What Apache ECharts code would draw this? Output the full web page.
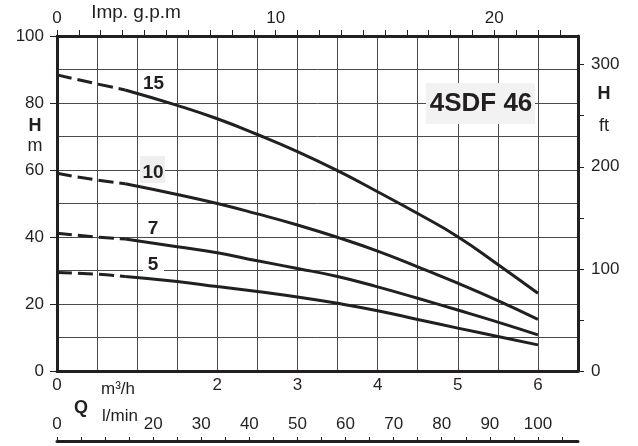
<!DOCTYPE html>
<html><head><meta charset="utf-8">
<script src="https://cdn.jsdelivr.net/npm/echarts@6/dist/echarts.min.js"></script>
<style>html,body{margin:0;padding:0;background:#fff}#c{width:638px;height:446px}</style>
</head><body><div id="c"></div>
<script>
// Flow rate (m3/h) sample points, shared by all curves
const flow = [0, 0.5, 0.85, 1.5, 2, 2.5, 3, 3.5, 4, 4.5, 5, 5.5, 6];
// Head (m) for each stage count
const head15 = [88.4, 85.7, 83.9, 79.3, 75.3, 70.6, 65.5, 59.8, 53.5, 47.0, 40.1, 31.8, 23.2];
const head10 = [59.0, 57.0, 55.9, 52.7, 50.0, 46.9, 43.6, 39.9, 35.8, 31.1, 26.2, 21.0, 15.4];
const head7  = [41.1, 40.0, 39.4, 37.1, 35.3, 32.9, 30.6, 28.2, 25.1, 21.7, 18.2, 14.6, 10.8];
const head5  = [29.4, 28.9, 28.2, 26.7, 25.2, 23.7, 22.1, 20.2, 18.0, 15.4, 12.8, 10.3, 7.8];
const curveLabels = ['15', '10', '7', '5'];
const dashEndIndex = 2; // dashed part runs from flow[0] to flow[2]

// Axis ranges and unit conversions
const flowMax = 6.5;          // m3/h
const headMax = 100;          // m
const gpmPerM3h = 1000 / 60 / 4.54609;
const lminPerM3h = 1000 / 60;
const ftPerM = 1 / 0.3048;

const font = "'Liberation Sans', Arial, Helvetica, sans-serif";
const ink = '#231f20';
const gridColor = '#4a4a4a';

const heads = [head15, head10, head7, head5];
const series = [];
heads.forEach((h, k) => {
  const pts = flow.map((q, i) => [q, h[i]]);
  series.push({
    type: 'line', name: curveLabels[k] + ' dashed', xAxisIndex: 0, yAxisIndex: 0,
    data: pts.slice(0, dashEndIndex + 1), smooth: 0.5, symbol: 'none', silent: true,
    lineStyle: { color: ink, width: 3, type: [15, 6] }, z: 5
  });
  series.push({
    type: 'line', name: curveLabels[k], xAxisIndex: 0, yAxisIndex: 0,
    data: pts.slice(dashEndIndex), smooth: 0.5, symbol: 'none', silent: true,
    lineStyle: { color: ink, width: 3 }, z: 5
  });
});

function txt(text, x, y, size, bold, extra) {
  return Object.assign({
    type: 'text', z: 200, silent: true,
    style: { text: text, x: x, y: y, fill: ink, fontSize: size, fontFamily: font,
      fontWeight: bold ? 'bold' : 'normal', align: 'center', verticalAlign: 'middle',
      textAlign: 'center', textVerticalAlign: 'middle' }
  }, extra || {});
}
function box(x, y, w, h, fill) {
  return { type: 'rect', z: 150, silent: true, shape: { x: x, y: y, width: w, height: h }, style: { fill: fill } };
}

const labelStyle = { color: ink, fontSize: 17, fontFamily: font };

const option = {
  animation: false,
  backgroundColor: '#ffffff',
  grid: { left: 57, right: 60, top: 36, bottom: 75, containLabel: false },
  xAxis: [
    { type: 'value', position: 'bottom', min: 0, max: flowMax, interval: 0.5,
      axisLine: { show: true, onZero: false, lineStyle: { color: ink, width: 3 } },
      axisTick: { show: false },
      splitLine: { show: true, lineStyle: { color: gridColor, width: 1 } },
      axisLabel: Object.assign({ margin: 6, showMaxLabel: true,
        formatter: v => (Number.isInteger(v) && v !== 1) ? String(v) : '' }, labelStyle) },
    { type: 'value', position: 'top', min: 0, max: flowMax * gpmPerM3h, interval: 1,
      axisLine: { show: true, onZero: false, lineStyle: { color: ink, width: 3 } },
      axisTick: { show: true, length: 6, lineStyle: { color: ink, width: 1 } },
      splitLine: { show: false },
      axisLabel: Object.assign({ margin: 9, showMaxLabel: false,
        formatter: v => (v % 10 === 0) ? String(v) : '' }, labelStyle) },
    { type: 'value', position: 'bottom', offset: 70, min: 0, max: flowMax * lminPerM3h, interval: 5,
      axisLine: { show: true, onZero: false, lineStyle: { color: ink, width: 3 } },
      axisTick: { show: true, inside: true, length: 4, lineStyle: { color: ink, width: 1 } },
      splitLine: { show: false },
      axisLabel: Object.assign({ inside: true, margin: 8, showMaxLabel: false,
        formatter: v => (v === 0 || (v % 10 === 0 && v >= 20 && v <= 100)) ? String(v) : '' }, labelStyle) }
  ],
  yAxis: [
    { type: 'value', position: 'left', min: 0, max: headMax, interval: 20,
      axisLine: { show: true, onZero: false, lineStyle: { color: ink, width: 3 } },
      axisTick: { show: true, length: 7, lineStyle: { color: ink, width: 1 } },
      minorTick: { show: true, splitNumber: 2, length: 0, lineStyle: { width: 0 } },
      splitLine: { show: true, lineStyle: { color: gridColor, width: 1 } },
      minorSplitLine: { show: true, lineStyle: { color: gridColor, width: 1 } },
      axisLabel: Object.assign({ margin: 13 }, labelStyle) },
    { type: 'value', position: 'right', min: 0, max: headMax * ftPerM, interval: 50,
      axisLine: { show: true, onZero: false, lineStyle: { color: ink, width: 3 } },
      axisTick: { show: true, length: 6, lineStyle: { color: ink, width: 1 } },
      splitLine: { show: false },
      axisLabel: Object.assign({ margin: 13, showMaxLabel: false,
        formatter: v => (v % 100 === 0) ? String(v) : '' }, labelStyle) }
  ],
  series: series,
  graphic: [
    txt('Imp. g.p.m', 136, 13, 19, false),
    txt('H', 35, 126, 18, true),
    txt('m', 35, 146, 18, false),
    txt('H', 604, 94, 18, true),
    txt('ft', 604, 126, 18, false),
    txt('m³/h', 118, 389, 17, false),
    txt('Q', 81, 408, 18, true),
    txt('l/min', 120, 416, 17, false),
    box(426, 83, 109, 41, '#f2f2f2'),
    txt('4SDF 46', 481, 104, 26, true),
    txt('15', 153.5, 84, 19, true),
    box(140, 156, 25, 27, '#efefef'),
    txt('10', 153, 173, 19, true),
    txt('7', 153, 228.5, 19, true),
    box(143, 258, 21, 16, '#ffffff'),
    txt('5', 153, 265, 19, true)
  ]
};

const chart = echarts.init(document.getElementById('c'), null, { renderer: 'canvas' });
chart.setOption(option);
</script>
</body></html>
